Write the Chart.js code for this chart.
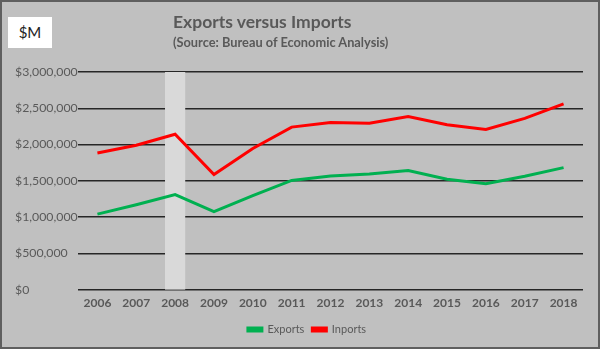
<!DOCTYPE html>
<html>
<head>
<meta charset="utf-8">
<script src="https://cdn.jsdelivr.net/npm/chart.js@4/dist/chart.umd.min.js"></script>
<style>
  html, body { margin: 0; padding: 0; background: #c0c0c0; }
  #wrap { position: relative; width: 600px; height: 349px; overflow: hidden; background: #c0c0c0; }
  #frame { position: absolute; left: 0; top: 0; width: 600px; height: 349px; box-sizing: border-box;
           border: 2px solid #5f5f5f; pointer-events: none; }
  #unit { position: absolute; left: 8px; top: 17px; width: 44px; height: 31px; background: #fff;
          font: 15px Lato, "Open Sans", sans-serif; color: #222; line-height: 31px; text-align: center; }
  #title { position: absolute; left: 173px; top: 11px; font: bold 17.5px Lato, "Open Sans", sans-serif; color: #595959; }
  #subtitle { position: absolute; left: 173px; top: 34px; font: bold 12.8px Lato, "Open Sans", sans-serif; color: #595959; }
  canvas { position: absolute; left: 0; top: 0; }
</style>
</head>
<body>
<div id="wrap">
  <canvas id="c" width="600" height="349"></canvas>
  <div id="unit">$M</div>
  <div id="title">Exports versus Imports</div>
  <div id="subtitle">(Source: Bureau of Economic Analysis)</div>
  <div id="frame"></div>
</div>
<script>
// Annual trade totals, $ millions
const years = ['2006','2007','2008','2009','2010','2011','2012','2013','2014','2015','2016','2017','2018'];
const exportsValues = [1041000, 1170000, 1310000, 1074000, 1295000, 1505000, 1567000, 1594000, 1641000, 1521000, 1461000, 1562000, 1682000];
const importsValues = [1884000, 1990000, 2141000, 1586000, 1945000, 2240000, 2303000, 2294000, 2385000, 2273000, 2208000, 2360000, 2560000];
const highlightYear = '2008';

const FONT = 'Lato, "Open Sans", sans-serif';
const TEXT = '#595959';

// Shaded column behind the highlighted year
const bandPlugin = {
  id: 'band',
  beforeDatasetsDraw(chart) {
    const x = chart.scales.x, area = chart.chartArea;
    const idx = years.indexOf(highlightYear);
    const cx = x.getPixelForValue(idx);
    const w = (x.getPixelForValue(1) - x.getPixelForValue(0)) * 0.52;
    const ctx = chart.ctx;
    ctx.save();
    ctx.fillStyle = '#d9d9d9';
    ctx.fillRect(cx - w / 2, area.top, w, area.bottom - area.top);
    ctx.restore();
  }
};

// Nudge the legend so it centres under the plot area rather than the canvas
const legendShift = {
  id: 'legendShift',
  afterLayout(chart) {
    if (chart.legend) { chart.legend.left += 8; chart.legend.right += 8; }
  }
};

new Chart(document.getElementById('c'), {
  type: 'line',
  data: {
    labels: years,
    datasets: [
      { label: 'Exports', data: exportsValues, borderColor: '#00b050', backgroundColor: '#00b050',
        borderWidth: 3, pointRadius: 0, tension: 0 },
      { label: 'Inports', data: importsValues, borderColor: '#ff0000', backgroundColor: '#ff0000',
        borderWidth: 3, pointRadius: 0, tension: 0 }
    ]
  },
  options: {
    responsive: false,
    animation: false,
    layout: { padding: { left: 15, right: 17, top: 72, bottom: 4 } },
    plugins: {
      legend: {
        position: 'bottom',
        labels: { boxWidth: 14, boxHeight: 3, color: TEXT, font: { family: FONT, size: 11 }, padding: 8 }
      },
      tooltip: { enabled: false }
    },
    scales: {
      x: {
        offset: true,
        grid: { display: false, drawTicks: false },
        border: { display: false },
        ticks: { color: TEXT, font: { family: FONT, size: 12, weight: 'bold' }, padding: 6, maxRotation: 0 }
      },
      y: {
        min: 0, max: 3000000,
        afterFit(scale) { scale.width = 63; },
        grid: { color: '#262626', lineWidth: 1.5, drawTicks: false },
        border: { display: false },
        ticks: {
          stepSize: 500000, crossAlign: 'far', padding: 6,
          color: TEXT, font: { family: FONT, size: 12.3 },
          callback: v => '$' + v.toLocaleString('en-US')
        }
      }
    }
  },
  plugins: [bandPlugin, legendShift]
});
</script>
</body>
</html>
